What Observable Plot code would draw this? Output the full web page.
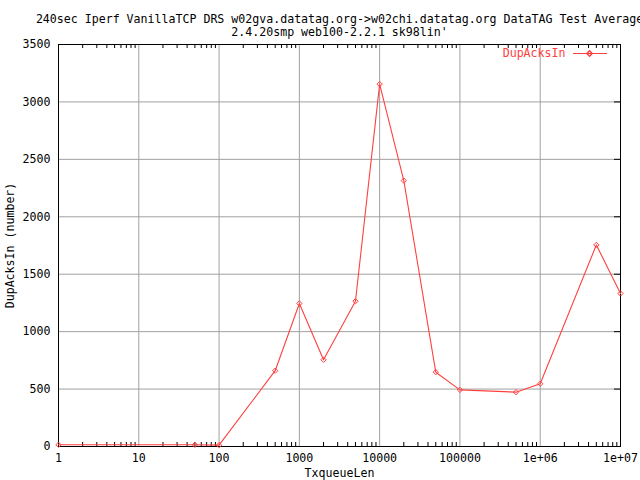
<!DOCTYPE html>
<html>
<head>
<meta charset="utf-8">
<script src="https://cdn.jsdelivr.net/npm/d3@7"></script>
<script src="https://cdn.jsdelivr.net/npm/@observablehq/plot@0.6"></script>
<style>
  html, body { margin: 0; padding: 0; background: white; }
</style>
</head>
<body>
<div id="chart"></div>
<script>
// ---- data ----
const txqueueLen = [1, 50, 100, 500, 1000, 2000, 5000, 10000, 20000, 50000, 100000, 500000, 1000000, 5000000, 10000000];
const dupAcksIn = [15, 15, 12, 660, 1245, 755, 1265, 3155, 2315, 647, 493, 473, 546, 1755, 1332];

const xTicks = [1, 10, 100, 1000, 10000, 100000, 1000000, 10000000];
const xTickLabels = ["1", "10", "100", "1000", "10000", "100000", "1e+06", "1e+07"];
const yTicks = [0, 500, 1000, 1500, 2000, 2500, 3000, 3500];
const yTickLabels = ["0", "500", "1000", "1500", "2000", "2500", "3000", "3500"];

const titleLine1 = "240sec Iperf VanillaTCP DRS w02gva.datatag.org->w02chi.datatag.org DataTAG Test Average";
const titleLine2 = "2.4.20smp web100-2.2.1 sk98lin'";
const xLabel = "TxqueueLen";
const yLabel = "DupAcksIn (number)";
const seriesName = "DupAcksIn";

// ---- build ----
const data = txqueueLen.map((x, i) => ({x, y: dupAcksIn[i]}));
const minorX = [];
for (let i = 0; i < xTicks.length - 1; i++) {
  for (let k = 2; k <= 9; k++) minorX.push(xTicks[i] * k);
}

const RED = "#ff4040";
const GRID = "#a0a0a0";
const FONT = "'DejaVu Sans Mono', 'Liberation Mono', monospace";
const FS = 11.6;
const innerH = 480 - 44 - 34;
const innerW = 640 - 58 - 20;

const chart = Plot.plot({
  width: 640,
  height: 480,
  marginLeft: 58,
  marginRight: 20,
  marginTop: 44,
  marginBottom: 34,
  x: {type: "log", domain: [1, 1e7], axis: null},
  y: {domain: [0, 3500], axis: null},
  style: {fontFamily: FONT, fontSize: FS + "px", background: "white", color: "black", overflow: "visible"},
  marks: [
    // grid
    Plot.ruleX(xTicks, {stroke: GRID, strokeWidth: 1}),
    Plot.ruleY(yTicks, {stroke: GRID, strokeWidth: 1}),
    // minor x ticks (bottom and top, inward)
    Plot.ruleX(minorX, {stroke: "black", insetTop: innerH - 4}),
    Plot.ruleX(minorX, {stroke: "black", insetBottom: innerH - 4}),
    // major y ticks mirrored on right
    Plot.ruleY(yTicks, {stroke: "black", insetLeft: innerW - 6}),
    // frame
    Plot.frame({stroke: "black", strokeWidth: 1}),
    // data
    Plot.line(data, {x: "x", y: "y", stroke: RED, strokeWidth: 1.1}),
    Plot.dot(data, {x: "x", y: "y", symbol: "diamond2", r: 2.4, stroke: RED, strokeWidth: 1, fill: "none"}),
    // tick labels
    Plot.text(xTicks, {x: d => d, text: (d, i) => xTickLabels[i], frameAnchor: "bottom", dy: 12, lineAnchor: "middle", fontSize: FS, fill: "black"}),
    Plot.text(yTicks, {y: d => d, text: (d, i) => yTickLabels[i], frameAnchor: "left", dx: -8, textAnchor: "end", lineAnchor: "middle", fontSize: FS, fill: "black"}),
    // axis labels
    Plot.text([xLabel], {frameAnchor: "bottom", dy: 27, lineAnchor: "middle", fontSize: FS, fill: "black"}),
    Plot.text([yLabel], {frameAnchor: "left", dx: -48, rotate: -90, textAnchor: "middle", lineAnchor: "middle", fontSize: FS, fill: "black"}),
    // title
    Plot.text([titleLine1], {frameAnchor: "top", dy: -25, lineAnchor: "middle", fontSize: FS, fill: "black"}),
    Plot.text([titleLine2], {frameAnchor: "top", dy: -12, lineAnchor: "middle", fontSize: FS, fill: "black"}),
    // legend
    Plot.text([seriesName], {frameAnchor: "top-right", dx: -55, dy: 9, textAnchor: "end", lineAnchor: "middle", fontSize: FS, fill: RED}),
    Plot.ruleY([3500], {dy: 9, insetLeft: 573 - 58, insetRight: 620 - 607, stroke: RED, strokeWidth: 1.1}),
    Plot.dot([0], {frameAnchor: "top-right", dx: -31, dy: 9, symbol: "diamond2", r: 2.4, stroke: RED, fill: "none"})
  ]
});
document.getElementById("chart").appendChild(chart);
</script>
</body>
</html>
